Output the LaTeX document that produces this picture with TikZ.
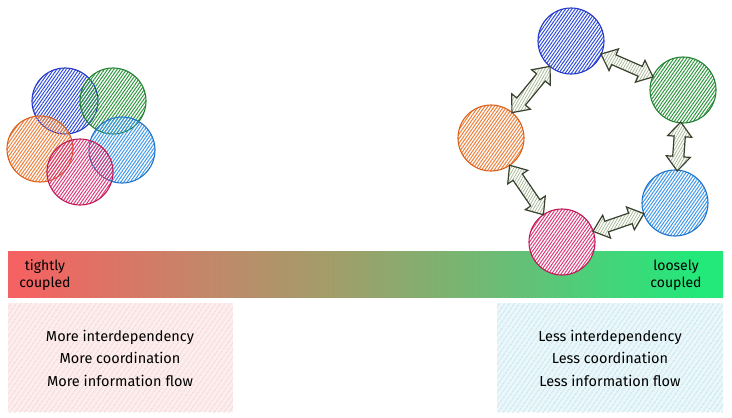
\documentclass[tikz,border=0pt]{standalone}
\usepackage{fontspec}
\setmainfont{Fira Sans}
\usetikzlibrary{shapes.arrows,patterns.meta,calc}
\definecolor{cblue}{RGB}{35,55,200}
\definecolor{cbluef}{RGB}{45,75,220}
\definecolor{cgreen}{RGB}{35,130,50}
\definecolor{cgreenf}{RGB}{45,150,60}
\definecolor{corange}{RGB}{220,95,25}
\definecolor{corangef}{RGB}{238,125,55}
\definecolor{clblue}{RGB}{30,115,205}
\definecolor{clbluef}{RGB}{60,150,235}
\definecolor{cpink}{RGB}{190,25,85}
\definecolor{cpinkf}{RGB}{220,55,120}
\definecolor{arrline}{RGB}{55,65,45}
\definecolor{arrfill}{RGB}{165,180,145}
\definecolor{barA}{RGB}{244,98,98}
\definecolor{barB}{RGB}{190,138,105}
\definecolor{barC}{RGB}{160,158,105}
\definecolor{barD}{RGB}{95,195,120}
\definecolor{barE}{RGB}{35,232,122}
\definecolor{pinkbg}{RGB}{252,238,238}
\definecolor{pinkln}{RGB}{240,190,190}
\definecolor{tealbg}{RGB}{235,247,250}
\definecolor{tealln}{RGB}{160,215,225}
\pgfdeclarehorizontalshading{barshade}{100bp}{%
  color(0bp)=(barA); color(26bp)=(barA); color(40bp)=(barB); color(48bp)=(barC);
  color(62bp)=(barD); color(73bp)=(barE); color(100bp)=(barE)}
\tikzset{
  ball/.style={circle, minimum size=66pt, inner sep=0pt, line width=1.1pt},
  hatch/.style={pattern={Lines[angle=55,distance=2.6pt,line width=1pt]}},
  solidbg/.style={preaction={fill=white}},
  bblue/.style={ball, draw=cblue, hatch, pattern color=cbluef},
  bgreen/.style={ball, draw=cgreen, hatch, pattern color=cgreenf},
  borange/.style={ball, draw=corange, hatch, pattern color=corangef},
  blblue/.style={ball, draw=clblue, hatch, pattern color=clbluef},
  bpink/.style={ball, draw=cpink, hatch, pattern color=cpinkf},
  dbl/.style={double arrow, draw=arrline, line width=1.2pt, minimum width=23pt,
    double arrow head extend=6.5pt, double arrow tip angle=80,
    inner xsep=0pt, inner ysep=5pt, preaction={fill=white},
    pattern={Lines[angle=60,distance=2.5pt,line width=0.7pt]}, pattern color=arrfill},
  lbl/.style={font=\fontsize{14}{17}\selectfont, align=center, text=black},
  boxtxt/.style={font=\fontsize{14.5}{22.5}\selectfont, align=center, text=black}
}
\begin{document}
\begin{tikzpicture}[x=1pt,y=-1pt]
\useasboundingbox (0,0) rectangle (732,418);
% bar
\shade[shading=barshade] (8,251) rectangle (723,297);
\node[lbl] (tc) at (45,275) {tightly\\coupled};
\node[lbl] (lc) at (676,275) {loosely\\coupled};
% boxes
\fill[pinkbg] (8,303) rectangle (233,412);
\fill[pattern={Lines[angle=55,distance=4pt,line width=0.6pt]}, pattern color=pinkln] (8,303) rectangle (233,412);
\fill[tealbg] (497,303) rectangle (723,412);
\fill[pattern={Lines[angle=55,distance=4pt,line width=0.6pt]}, pattern color=tealln] (497,303) rectangle (723,412);
\node[boxtxt] (mt) at (120,358) {More interdependency\\More coordination\\More information flow};
\node[boxtxt] (lt) at (610,358) {Less interdependency\\Less coordination\\Less information flow};
% left cluster
\node[bblue] (lb) at (65,101) {};
\node[bgreen] (lg) at (113,101) {};
\node[borange] (lo) at (40,149) {};
\node[blblue] (ll) at (122,150) {};
\node[bpink] (lp) at (80,172) {};
% right ring
\node[bblue, solidbg] (rb) at (571,41) {};
\node[bgreen, solidbg] (rg) at (683,90) {};
\node[borange, solidbg] (ro) at (491,138) {};
\node[blblue, solidbg] (rl) at (675,203) {};
\node[bpink, solidbg] (rp) at (562,242) {};
% arrows
\path (rb) -- node[dbl, sloped, minimum height=57pt] (a1) {} (rg);
\path (rg) -- node[dbl, sloped, minimum height=49pt] (a2) {} (rl);
\path (rl) -- node[dbl, sloped, minimum height=54pt] (a3) {} (rp);
\path (rp) -- node[dbl, sloped, minimum height=60pt] (a4) {} (ro);
\path (ro) -- node[dbl, sloped, minimum height=60pt] (a5) {} (rb);
\end{tikzpicture}
\end{document}
